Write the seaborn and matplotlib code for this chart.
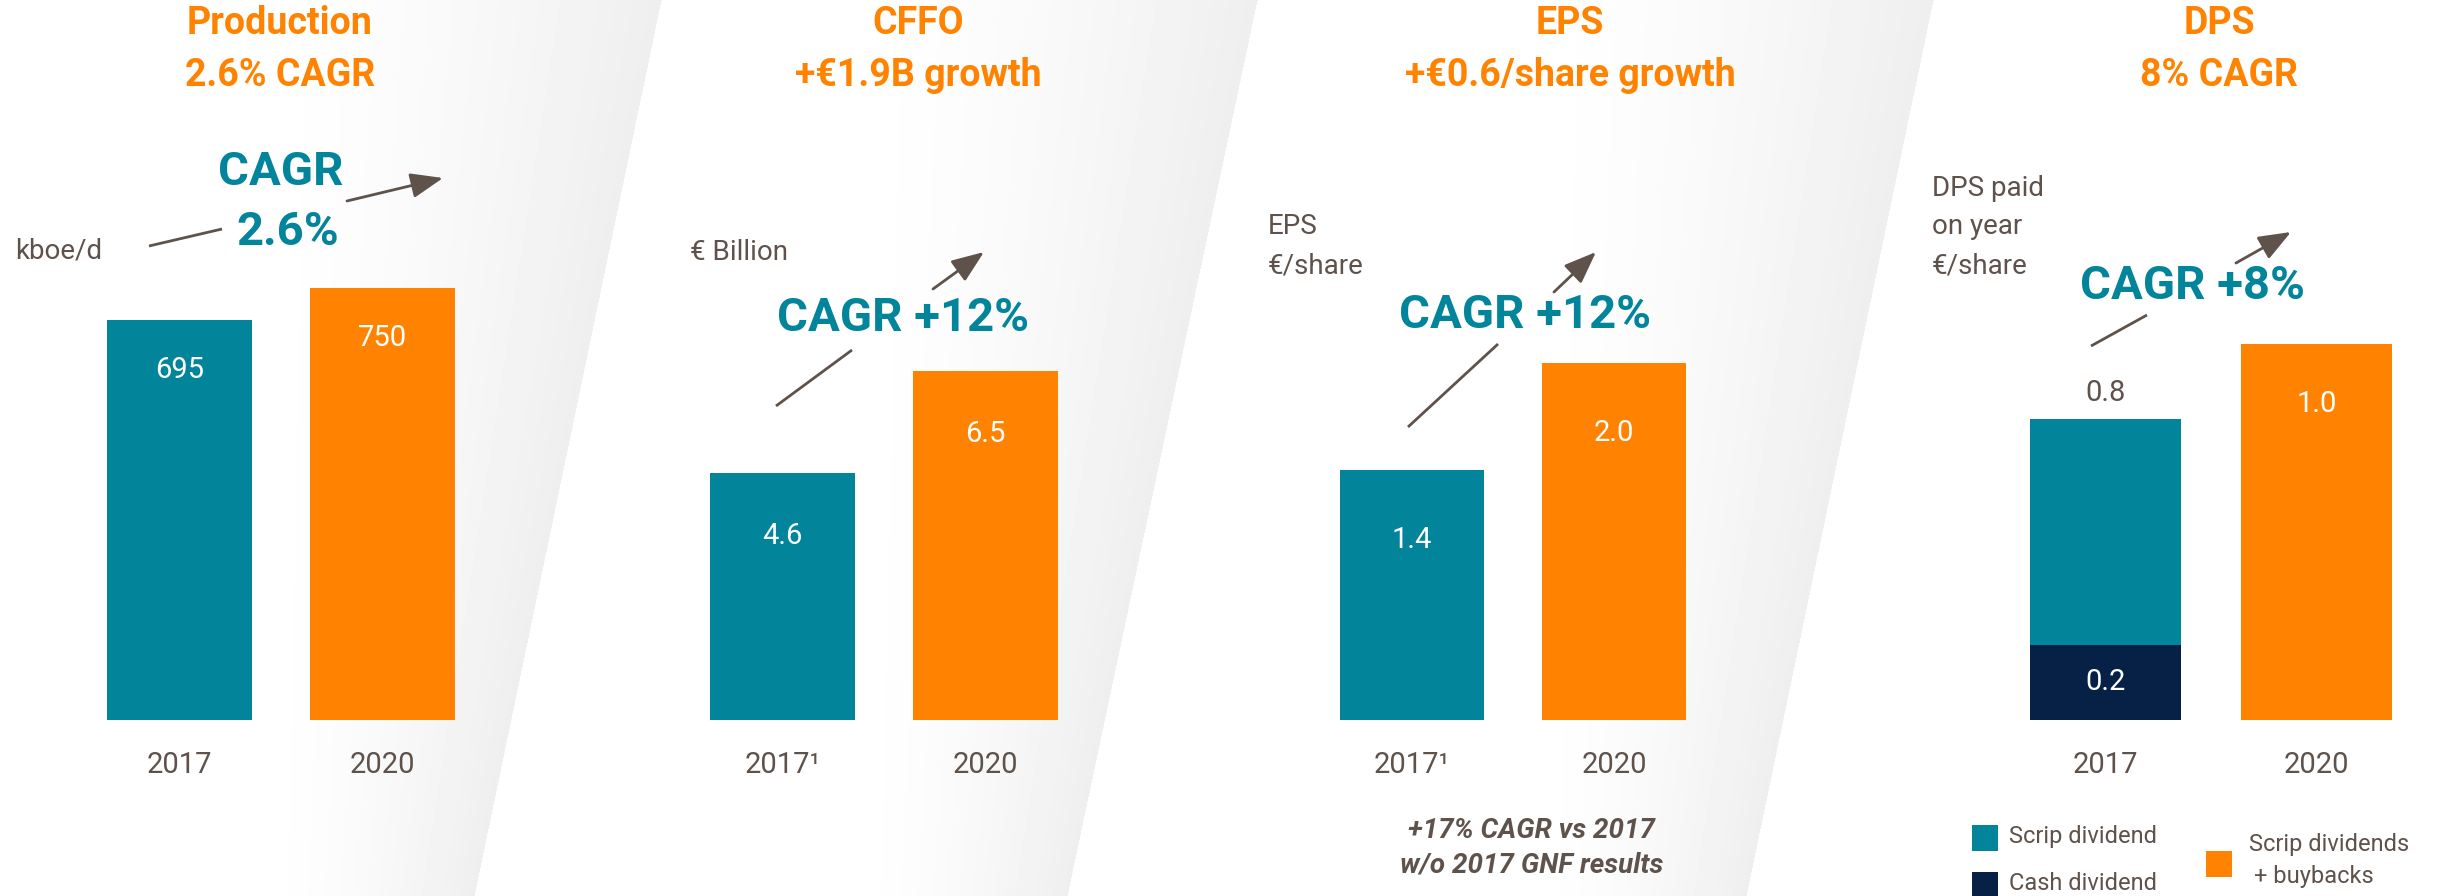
import numpy as np
import matplotlib.pyplot as plt
import seaborn as sns
from matplotlib.patches import Rectangle

# ---------------------------------------------------------
# data
# ---------------------------------------------------------
years = ["2017", "2020"]
production = [695, 750]          # kboe/d
cffo = [4.6, 6.5]                # € billion
eps = [1.4, 2.0]                 # €/share
dps_scrip = [0.6, 1.0]           # €/share (2020 = scrip dividends + buybacks)
dps_cash = [0.2, 0.0]            # €/share
dps_total = [s + c for s, c in zip(dps_scrip, dps_cash)]

# ---------------------------------------------------------
# style
# ---------------------------------------------------------
sns.set_theme(style="white")
plt.rcParams['font.family'] = ['Roboto', 'DejaVu Sans']

TEAL = "#02849B"
ORANGE = "#FF8300"
NAVY = "#062046"
BROWN = "#5E524B"

W, H = 2437, 896
fig = plt.figure(figsize=(W / 100, H / 100), dpi=100)
fig.patch.set_facecolor("white")


def rect(left, width, top=100, bottom=720):
    return [left / W, 1 - bottom / H, width / W, (bottom - top) / H]


# ---------------------------------------------------------
# faint background wedges
# ---------------------------------------------------------
bg = fig.add_axes([0, 0, 1, 1], zorder=-5)
bg.set_xlim(0, W)
bg.set_ylim(H, 0)
bg.axis("off")
yy, xx = np.mgrid[0:H, 0:W]
shade = np.ones((H, W))
for x_top, x_bot, w_top, w_bot in [(661, 474, 420, 220), (1257, 1067, 420, 220), (1933, 1746, 420, 220)]:
    edge = x_top + (x_bot - x_top) * yy / H
    wid = w_top + (w_bot - w_top) * yy / H
    t = (xx - (edge - wid)) / wid
    inside = (t >= 0) & (t <= 1)
    shade = np.where(inside, np.minimum(shade, 1 - 0.065 * t ** 1.5), shade)
bg.imshow(shade, cmap="gray", vmin=0, vmax=1, extent=(0, W, H, 0), aspect="auto")


# ---------------------------------------------------------
# bar panels
# ---------------------------------------------------------
def bar_panel(left, width, values, bar_w=0.714):
    ax = fig.add_axes(rect(left, width))
    sns.barplot(x=years, y=values, hue=years, palette=[TEAL, ORANGE],
                legend=False, width=bar_w, saturation=1, linewidth=0, ax=ax)
    return ax


def finish(ax, ymax, ticks):
    ax.set_ylim(0, ymax)
    ax.set_xlim(-0.5, 1.5)
    ax.set_facecolor("none")
    sns.despine(ax=ax, left=True, bottom=True)
    ax.set_yticks([])
    ax.set_xticks([0, 1])
    ax.set_xticklabels(ticks)
    ax.tick_params(axis="x", length=0, pad=22, labelsize=21, labelcolor=BROWN)
    ax.set_xlabel("")
    ax.set_ylabel("")


def inside_labels(ax, values, fmt, offset):
    for i, v in enumerate(values):
        ax.annotate(fmt.format(v), xy=(i, v), xytext=(0, -offset),
                    textcoords="offset pixels", ha="center", va="center",
                    color="white", fontsize=21)


ax1 = bar_panel(78, 406, production)
finish(ax1, 1077, years)
inside_labels(ax1, production, "{:.0f}", 50)

ax2 = bar_panel(681, 406, cffo)
finish(ax2, 11.55, ["2017¹", "2020"])
inside_labels(ax2, cffo, "{:.1f}", 63)

ax3 = bar_panel(1311, 404, eps)
finish(ax3, 3.473, ["2017¹", "2020"])
inside_labels(ax3, eps, "{:.1f}", 70)

ax4 = bar_panel(2000, 422, dps_total, bar_w=0.716)
sns.barplot(x=years, y=dps_cash, color=NAVY, width=0.716, saturation=1,
            linewidth=0, ax=ax4)
finish(ax4, 1.649, years)
ax4.annotate("{:.1f}".format(dps_total[0]), xy=(0, dps_total[0]), xytext=(0, 26),
             textcoords="offset pixels", ha="center", va="center", color=BROWN, fontsize=21)
ax4.annotate("{:.1f}".format(dps_total[1]), xy=(1, dps_total[1]), xytext=(0, -60),
             textcoords="offset pixels", ha="center", va="center", color="white", fontsize=21)
ax4.annotate("{:.1f}".format(dps_cash[0]), xy=(0, dps_cash[0] / 2), ha="center",
             va="center", color="white", fontsize=21)

# ---------------------------------------------------------
# overlay: titles, units, CAGR call-outs, legend
# ---------------------------------------------------------
ov = fig.add_axes([0, 0, 1, 1], zorder=5)
ov.set_xlim(0, W)
ov.set_ylim(H, 0)
ov.axis("off")
ov.patch.set_alpha(0)

titles = [(280, "Production", "2.6% CAGR"), (918, "CFFO", "+€1.9B growth"),
          (1570, "EPS", "+€0.6/share growth"), (2219, "DPS", "8% CAGR")]
for x, l1, l2 in titles:
    ov.text(x, 24, l1, ha="center", va="center", fontsize=27, fontweight="bold", color=ORANGE)
    ov.text(x, 75, l2, ha="center", va="center", fontsize=27, fontweight="bold", color=ORANGE)

units = [(15, 251, "kboe/d"), (690, 252, "€ Billion"), (1268, 227, "EPS"),
         (1268, 266, "€/share"), (1932, 188, "DPS paid"), (1932, 227, "on year"),
         (1932, 266, "€/share")]
for x, y, s in units:
    ov.text(x, y, s, ha="left", va="center", fontsize=20, color=BROWN)

cagr = [(281, 172, "CAGR"), (288, 232, "2.6%"), (903, 318, "CAGR +12%"),
        (1525, 315, "CAGR +12%"), (2192, 286, "CAGR +8%")]
for x, y, s in cagr:
    ov.text(x, y, s, ha="center", va="center", fontsize=34, fontweight="bold", color=TEAL)

tails = [((149, 246), (222, 229)), ((776, 406), (852, 350)),
         ((1408, 427), (1498, 344)), ((2091, 346), (2147, 315))]
for (x0, y0), (x1, y1) in tails:
    ov.plot([x0, x1], [y0, y1], color=BROWN, lw=2, solid_capstyle="butt")

heads = [((347, 201), (443, 178)), ((933, 289), (984, 252)),
         ((1554, 292), (1596, 252)), ((2236, 263), (2291, 232))]
for start, end in heads:
    ov.annotate("", xy=end, xytext=start,
                arrowprops=dict(arrowstyle="-|>,head_length=0.9,head_width=0.35",
                                color=BROWN, lw=2, mutation_scale=22,
                                shrinkA=0, shrinkB=0))

ov.text(1531, 830, "+17% CAGR vs 2017", ha="center", va="center", fontsize=20,
        fontweight="bold", fontstyle="italic", color=BROWN)
ov.text(1532, 865, "w/o 2017 GNF results", ha="center", va="center", fontsize=20,
        fontweight="bold", fontstyle="italic", color=BROWN)

# legend
for (x, y), c in [((1972, 825), TEAL), ((1972, 872), NAVY), ((2206, 851), ORANGE)]:
    ov.add_patch(Rectangle((x, y), 26, 26, color=c, lw=0))
ov.text(2009, 837, "Scrip dividend", ha="left", va="center", fontsize=17, color=BROWN)
ov.text(2009, 883, "Cash dividend", ha="left", va="center", fontsize=17, color=BROWN)
ov.text(2249, 845, "Scrip dividends", ha="left", va="center", fontsize=17, color=BROWN)
ov.text(2254, 877, "+ buybacks", ha="left", va="center", fontsize=17, color=BROWN)

fig.savefig("out.png", dpi=100, facecolor="white")
plt.close(fig)
